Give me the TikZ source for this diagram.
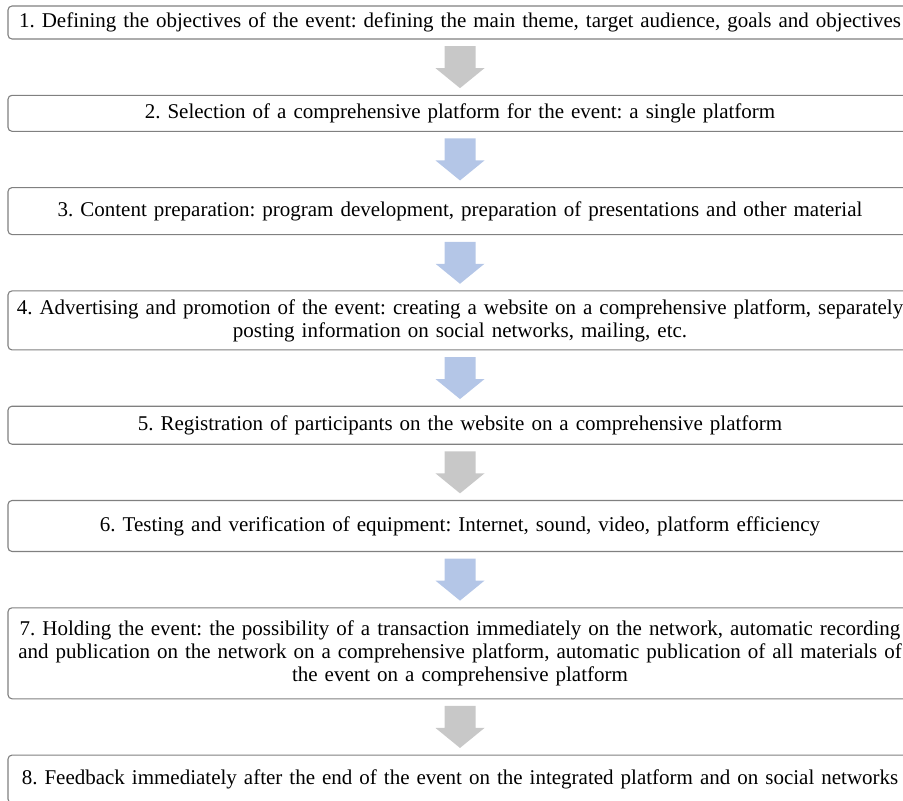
\documentclass[tikz,border=0pt]{standalone}
\usepackage{fontspec}
\setmainfont{Liberation Serif}
\usetikzlibrary{positioning, calc}

\definecolor{arrgray}{HTML}{C8C8C8}
\definecolor{arrblue}{HTML}{B4C6E7}
\definecolor{boxline}{HTML}{808080}

\begin{document}
\begin{tikzpicture}[
        x=1pt, y=1pt,
        font=\fontsize{21}{23}\selectfont\frenchspacing,
        node distance=55.2pt,
        stage/.style={draw=boxline, line width=1.1pt, rounded corners=4pt,
            align=center, minimum width=904pt, text width=900pt,
            inner xsep=2pt, inner ysep=0pt}
    ]

    % Canvas
    \useasboundingbox (0,0) rectangle (903,-801);
    \clip (0,0) rectangle (903,-801);

    % Stages
    \node[stage, minimum height=33pt] (s1) at (460,-22.5)
        {1. Defining the objectives of the event: defining the main theme, target audience, goals and objectives};
    \node[stage, minimum height=36pt, below=of s1] (s2)
        {2. Selection of a comprehensive platform for the event: a single platform};
    \node[stage, minimum height=47pt, below=of s2] (s3)
        {3. Content preparation: program development, preparation of presentations and other material};
    \node[stage, minimum height=59pt, below=of s3] (s4)
        {4. Advertising and promotion of the event: creating a website on a comprehensive platform, separately\\
         posting information on social networks, mailing, etc.};
    \node[stage, minimum height=38pt, below=of s4] (s5)
        {5. Registration of participants on the website on a comprehensive platform};
    \node[stage, minimum height=51pt, below=of s5] (s6)
        {6. Testing and verification of equipment: Internet, sound, video, platform efficiency};
    \node[stage, minimum height=91pt, below=of s6] (s7)
        {7. Holding the event: the possibility of a transaction immediately on the network, automatic recording\\
         and publication on the network on a comprehensive platform, automatic publication of all materials of\\
         the event on a comprehensive platform};
    \node[stage, minimum height=48pt, below=of s7] (s8)
        {8. Feedback immediately after the end of the event on the integrated platform and on social networks};

    % Block arrows between stages
    \foreach \a/\b/\c in {1/2/arrgray, 2/3/arrblue, 3/4/arrblue, 4/5/arrblue,
                          5/6/arrgray, 6/7/arrblue, 7/8/arrgray} {
        \coordinate (m\a) at ($(s\a.south)!0.5!(s\b.north)$);
        \fill[\c] ($(m\a)+(-15.5,21)$) -- ($(m\a)+(15.5,21)$) -- ($(m\a)+(15.5,-1)$)
            -- ($(m\a)+(24.5,-1)$) -- ($(m\a)+(0,-21)$) -- ($(m\a)+(-24.5,-1)$)
            -- ($(m\a)+(-15.5,-1)$) -- cycle;
    }

\end{tikzpicture}
\end{document}
